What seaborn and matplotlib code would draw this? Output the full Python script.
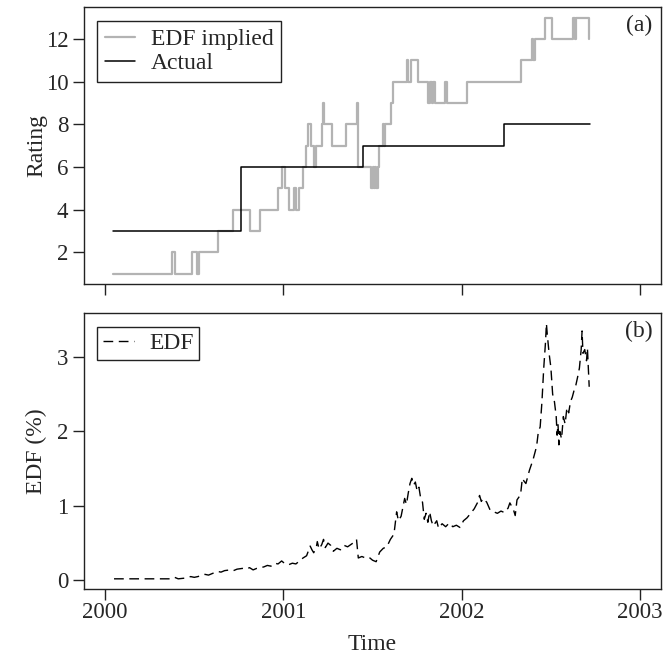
import numpy as np
import pandas as pd
import matplotlib
matplotlib.use('Agg')
import matplotlib.pyplot as plt
import seaborn as sns

# panel (a): ratings as step series (change points)
implied_time = [2000.047, 2000.377, 2000.392, 2000.490, 2000.514, 2000.527, 2000.635,
                2000.716, 2000.811, 2000.869, 2000.968, 2000.990, 2001.009, 2001.033,
                2001.061, 2001.072, 2001.087, 2001.112, 2001.125, 2001.140, 2001.155,
                2001.172, 2001.183, 2001.215, 2001.222, 2001.229, 2001.274, 2001.349,
                2001.411, 2001.420, 2001.490, 2001.500, 2001.506, 2001.516, 2001.522,
                2001.530, 2001.538, 2001.556, 2001.562, 2001.570, 2001.601, 2001.616,
                2001.691, 2001.700, 2001.713, 2001.756, 2001.812, 2001.822, 2001.831,
                2001.840, 2001.852, 2001.906, 2001.917, 2002.027, 2002.330, 2002.392,
                2002.401, 2002.410, 2002.466, 2002.509, 2002.625, 2002.633, 2002.640,
                2002.715]
implied_rating = [1, 2, 1, 2, 1, 2, 3,
                  4, 3, 4, 5, 6, 5, 4,
                  5, 4, 5, 6, 7, 8, 7,
                  6, 7, 8, 9, 8, 7, 8,
                  9, 6, 5, 6, 5, 6, 5,
                  6, 7, 8, 7, 8, 9, 10,
                  11, 10, 11, 10, 9, 10, 9,
                  10, 9, 10, 9, 10, 11, 12,
                  11, 12, 13, 12, 13, 12, 13,
                  12]

actual_time = [2000.047, 2000.760, 2001.448, 2002.238, 2002.720]
actual_rating = [3, 6, 7, 8, 8]

# panel (b): EDF in percent
edf_time = [2000.05, 2000.15, 2000.25, 2000.37, 2000.39, 2000.41, 2000.45, 2000.48,
            2000.50, 2000.52, 2000.56, 2000.58, 2000.60, 2000.63, 2000.65, 2000.67,
            2000.70, 2000.72, 2000.74, 2000.77, 2000.79, 2000.81, 2000.83, 2000.85,
            2000.87, 2000.89, 2000.91, 2000.93, 2000.95, 2000.97, 2000.99, 2001.01,
            2001.03, 2001.05, 2001.07, 2001.09, 2001.11, 2001.13, 2001.15, 2001.16,
            2001.17, 2001.185, 2001.19, 2001.20, 2001.215, 2001.225, 2001.235, 2001.25,
            2001.265, 2001.28, 2001.30, 2001.32, 2001.34, 2001.36, 2001.39, 2001.41,
            2001.42, 2001.44, 2001.46, 2001.48, 2001.50, 2001.52, 2001.54, 2001.56,
            2001.58, 2001.60, 2001.62, 2001.635, 2001.645, 2001.66, 2001.68, 2001.69,
            2001.70, 2001.71, 2001.72, 2001.73, 2001.74, 2001.75, 2001.76, 2001.77,
            2001.78, 2001.79, 2001.80, 2001.81, 2001.82, 2001.83, 2001.84, 2001.86,
            2001.87, 2001.89, 2001.91, 2001.93, 2001.95, 2001.97, 2001.99, 2002.01,
            2002.03, 2002.05, 2002.07, 2002.09, 2002.10, 2002.11, 2002.12, 2002.14,
            2002.16, 2002.18, 2002.20, 2002.22, 2002.24, 2002.26, 2002.27, 2002.29,
            2002.30, 2002.31, 2002.33, 2002.34, 2002.35, 2002.36, 2002.38, 2002.39,
            2002.40, 2002.42, 2002.43, 2002.44, 2002.45, 2002.46, 2002.47, 2002.475,
            2002.48, 2002.49, 2002.50, 2002.51, 2002.52, 2002.53, 2002.535, 2002.54,
            2002.545, 2002.55, 2002.56, 2002.57, 2002.58, 2002.59, 2002.60, 2002.61,
            2002.62, 2002.63, 2002.64, 2002.65, 2002.66, 2002.67, 2002.675, 2002.68,
            2002.69, 2002.70, 2002.705, 2002.71, 2002.715]
edf_pct = [0.02, 0.02, 0.02, 0.02, 0.04, 0.02, 0.03, 0.05,
           0.04, 0.05, 0.08, 0.07, 0.09, 0.12, 0.11, 0.13,
           0.14, 0.13, 0.15, 0.16, 0.15, 0.17, 0.14, 0.16,
           0.17, 0.18, 0.20, 0.19, 0.23, 0.22, 0.26, 0.22,
           0.21, 0.23, 0.22, 0.26, 0.30, 0.33, 0.46, 0.41,
           0.37, 0.45, 0.52, 0.42, 0.48, 0.55, 0.44, 0.50,
           0.47, 0.39, 0.43, 0.41, 0.47, 0.45, 0.50, 0.55,
           0.30, 0.32, 0.30, 0.31, 0.27, 0.25, 0.38, 0.43,
           0.45, 0.55, 0.62, 0.92, 0.80, 0.86, 1.10, 1.02,
           1.17, 1.30, 1.37, 1.28, 1.32, 1.20, 1.25, 1.10,
           1.05, 0.82, 0.90, 0.78, 0.92, 0.80, 0.73, 0.80,
           0.70, 0.76, 0.72, 0.77, 0.72, 0.74, 0.71, 0.80,
           0.84, 0.90, 0.96, 1.05, 1.14, 1.06, 1.10, 1.05,
           0.94, 0.92, 0.90, 0.93, 0.91, 0.97, 1.04, 0.95,
           0.87, 1.08, 1.15, 1.37, 1.33, 1.30, 1.48, 1.55,
           1.62, 1.80, 2.00, 2.06, 2.40, 2.85, 3.20, 3.45,
           3.30, 3.05, 2.86, 2.50, 2.40, 2.20, 1.95, 2.10,
           1.82, 2.00, 1.90, 2.20, 2.10, 2.32, 2.25, 2.40,
           2.46, 2.55, 2.62, 2.73, 2.85, 3.10, 3.35, 3.05,
           3.10, 2.95, 3.12, 2.85, 2.60]

year_ticks = [2000, 2001, 2002, 2003]

sns.set_theme(style='ticks')
plt.rcParams['font.family'] = ['Liberation Serif', 'DejaVu Serif']
plt.rcParams['axes.edgecolor'] = '#222222'
plt.rcParams['axes.linewidth'] = 1.0

FS = 17
fig = plt.figure(figsize=(6.65, 6.56), dpi=100)
ax1 = fig.add_axes([0.1259, 0.5671, 0.8687, 0.4218])
ax2 = fig.add_axes([0.1259, 0.1021, 0.8687, 0.4203])

implied = pd.DataFrame({'t': implied_time, 'r': implied_rating})
actual = pd.DataFrame({'t': actual_time, 'r': actual_rating})
edf = pd.DataFrame({'t': edf_time, 'v': edf_pct})

sns.lineplot(data=implied, x='t', y='r', ax=ax1, color='#b3b3b3', lw=1.6,
             drawstyle='steps-post', label='EDF implied')
sns.lineplot(data=actual, x='t', y='r', ax=ax1, color='black', lw=1.1,
             drawstyle='steps-post', label='Actual')
sns.lineplot(data=edf, x='t', y='v', ax=ax2, color='black', lw=1.0, label='EDF')
ax2.lines[-1].set_linestyle((0, (7, 4)))

for ax in (ax1, ax2):
    ax.set_xlim(1999.88, 2003.12)
    ax.set_xticks(year_ticks)
    ax.set_xlabel('')
    ax.tick_params(direction='out', length=8, width=1, color='#222222',
                   labelsize=16.5, pad=3)
    for s in ax.spines.values():
        s.set_visible(True)

ax1.set_ylim(0.52, 13.48)
ax1.set_yticks([2, 4, 6, 8, 10, 12])
ax1.set_xticklabels([])
ax2.set_ylim(-0.117, 3.587)
ax2.set_yticks([0, 1, 2, 3])
ax2.set_xticklabels([str(y) for y in year_ticks])
ax2.tick_params(axis='x', pad=1)

ax1.set_ylabel('Rating', fontsize=FS, va='baseline')
ax1.yaxis.set_label_coords(-0.072, 0.5)
ax2.set_ylabel('EDF (%)', fontsize=FS, va='baseline')
ax2.yaxis.set_label_coords(-0.072, 0.5)
fig.text(0.5595, 1 - 650 / 656, 'Time', fontsize=FS, ha='center', va='baseline')

ax1.text(0.961, 0.936, '(a)', transform=ax1.transAxes, fontsize=FS,
         ha='center', va='center')
ax2.text(0.961, 0.933, '(b)', transform=ax2.transAxes, fontsize=FS,
         ha='center', va='center')

leg_kw = dict(loc='upper left', borderaxespad=0, fancybox=False, framealpha=1,
              edgecolor='#222222', fontsize=FS, handlelength=1.3,
              handletextpad=0.65, borderpad=0.25)
l1 = ax1.legend(bbox_to_anchor=(0.023, 0.9505), labelspacing=0.12,
                borderpad=0.32, **{k: v for k, v in leg_kw.items() if k != 'borderpad'})
l2 = ax2.legend(bbox_to_anchor=(0.023, 0.9514), labelspacing=0.0, **leg_kw)
for lg in (l1, l2):
    lg.get_frame().set_linewidth(1.0)

fig.savefig('out.png', dpi=100)
